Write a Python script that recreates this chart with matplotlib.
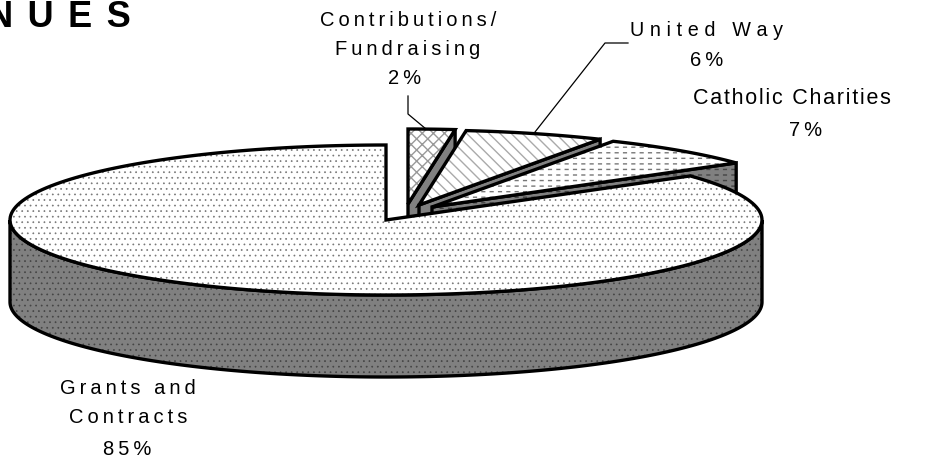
import numpy as np
import matplotlib
matplotlib.use('Agg')
import matplotlib.pyplot as plt
from matplotlib.patches import Polygon

# --- data ---
labels = ['Contributions/\nFundraising', 'United Way', 'Catholic Charities', 'Grants and\nContracts']
values = [2, 6, 7, 85]
hatches = ['xxx', '\\\\\\', '---', '...']
hatch_colors = ['#999999', '#aaaaaa', '#777777', '#777777']
title = 'REVENUES'

# --- layout in pixels ---
W, H = 927, 464
RX, RY, DEPTH = 376, 75, 82
APEX = [(408, 205), (419, 206), (432, 208), (386, 221)]
LABEL_POS = [(408, 35), (707, 31), (792, 98), (128, 403)]
VALUE_POS = [(405, 79), (707, 60), (806, 131), (127, 450)]
THIN = '\u2009'
HAIR = '\u200a'
LABEL_GAP = [THIN, THIN + HAIR, HAIR, THIN]
LABEL_SIZE = [14.5, 14.2, 15.5, 14.5]

plt.rcParams['font.family'] = ['Liberation Sans', 'DejaVu Sans']
plt.rcParams['hatch.linewidth'] = 1.0

fig = plt.figure(figsize=(W / 100, H / 100), dpi=100)
ax = fig.add_axes([0, 0, 1, 1])
ax.set_xlim(0, W)
ax.set_ylim(H, 0)
ax.axis('off')


def spaced(s, gap=THIN):
    return '\n'.join(gap.join(line) for line in s.split('\n'))


def rim(apex, a, b):
    t = np.linspace(a, b, 200)
    return np.column_stack([apex[0] + RX * np.sin(t), apex[1] - RY * np.cos(t)])


def fill(pts, face, hatch=None, hatch_color='#777777', z=1, hatch_lw=1.0):
    plt.rcParams['hatch.linewidth'] = hatch_lw
    ax.add_patch(Polygon(pts, closed=True, facecolor=face, edgecolor=hatch_color, hatch=hatch, lw=0, zorder=z))


def outline(pts, z=1):
    ax.add_patch(Polygon(pts, closed=True, facecolor='none', edgecolor='black', lw=2.4, joinstyle='miter', zorder=z))


# 奥の切片から順に描く
fracs = np.cumsum([0] + values) / sum(values) * 2 * np.pi
for i in range(len(values)):
    a, b = fracs[i], fracs[i + 1]
    apex = APEX[i]
    arc = rim(apex, a, b)
    down = np.array([0, DEPTH])
    if i == 3:
        # 手前の側面
        t2 = rim(apex, max(a, np.pi / 2), 3 * np.pi / 2)
        wall = np.vstack([t2, (t2 + down)[::-1]])
        fill(wall, '#808080', '...', '#444444', z=i + 1, hatch_lw=0.5)
        outline(wall, z=i + 1)
    else:
        # 切り口の側面
        end = arc[-1]
        face_pts = np.array([apex, end, end + down, np.array(apex) + down])
        fill(face_pts, '#808080', z=i + 1)
        if i == 2:
            fill(face_pts, 'none', '---', '#444444', z=i + 1)
            fill(face_pts, 'none', '||', '#808080', z=i + 1, hatch_lw=3.0)
        outline(face_pts, z=i + 1)
    top = np.vstack([[apex], arc])
    fill(top, 'white', hatches[i], hatch_colors[i], z=i + 1, hatch_lw=0.5 if i == 3 else 1.0)
    if i == 2:
        # 横線を破線に見せる
        fill(top, 'none', '||', 'white', z=i + 1, hatch_lw=3.0)
    outline(top, z=i + 1)

# 引き出し線
ax.plot([408, 408, 426], [97, 115, 130], color='black', lw=0.9, zorder=6)
ax.plot([628, 605, 535], [44, 44, 133], color='black', lw=0.9, zorder=6)

# ラベル
for lab, val, pos, vpos, gap, size in zip(labels, values, LABEL_POS, VALUE_POS, LABEL_GAP, LABEL_SIZE):
    ax.text(pos[0], pos[1], spaced(lab, gap), ha='center', va='center',
            fontsize=size, linespacing=1.7, color='black', zorder=7)
    ax.text(vpos[0], vpos[1], spaced(f'{val}%'), ha='center', va='center',
            fontsize=14.5, color='black', zorder=7)

ax.text(131, 27, (THIN * 2).join(title), ha='right', va='baseline', fontsize=26, fontweight='bold', color='black')

fig.savefig('out.png', dpi=100)
